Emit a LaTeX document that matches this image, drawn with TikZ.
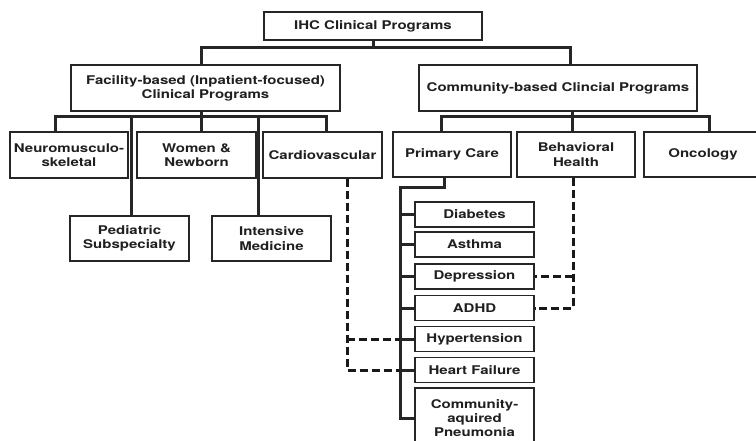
\documentclass[tikz,border=0pt]{standalone}
\usepackage{fontspec}
\setmainfont{TeX Gyre Heros}[FakeStretch=1.25]
\begin{document}
\begin{tikzpicture}[x=1pt,y=-1pt,
  font=\fontsize{12}{14.3}\selectfont\bfseries,
  box/.style={draw=black!85, line width=1.3pt, text=black!88, align=center, inner sep=0pt},
  conn/.style={draw=black!85, line width=3pt},
  dconn/.style={draw=black!90, line width=3pt, dash pattern=on 8pt off 4pt}]
\useasboundingbox (0,0) rectangle (756,441);
\clip (0,0) rectangle (756,441);
% level 0
\node[box, minimum width=218pt, minimum height=28pt] (ihc) at (373,26) {IHC Clinical Programs};
% level 1
\node[box, minimum width=269pt, minimum height=46pt] (fac) at (205.5,88) {Facility-based (Inpatient-focused)\\Clinical Programs};
\node[box, minimum width=278pt, minimum height=46pt] (com) at (558,88) {Community-based Clincial Programs};
% level 2 facility
\node[box, minimum width=118pt, minimum height=46pt] (neuro) at (69,155) {Neuromusculo-\\skeletal};
\node[box, minimum width=119pt, minimum height=46pt] (women) at (196.5,155) {Women \&\\Newborn};
\node[box, minimum width=119pt, minimum height=46pt] (cardio) at (322.5,155) {Cardiovascular};
\node[box, minimum width=119pt, minimum height=45pt] (ped) at (129.5,238.5) {Pediatric\\Subspecialty};
\node[box, minimum width=119pt, minimum height=45pt] (inten) at (271.5,238.5) {Intensive\\Medicine};
% level 2 community
\node[box, minimum width=118pt, minimum height=45pt] (prim) at (452,154.5) {Primary Care};
\node[box, minimum width=118pt, minimum height=45pt] (behav) at (576,154.5) {Behavioral\\Health};
\node[box, minimum width=118pt, minimum height=45pt] (onco) at (703,154.5) {Oncology};
% primary care children
\node[box, minimum width=119pt, minimum height=25pt] (diab) at (474.5,214.5) {Diabetes};
\node[box, minimum width=119pt, minimum height=25pt] (asth) at (474.5,244.5) {Asthma};
\node[box, minimum width=119pt, minimum height=25pt] (depr) at (474.5,276.5) {Depression};
\node[box, minimum width=119pt, minimum height=25pt] (adhd) at (474.5,308) {ADHD};
\node[box, minimum width=119pt, minimum height=25pt] (hyper) at (474.5,339) {Hypertension};
\node[box, minimum width=119pt, minimum height=25pt] (heart) at (474.5,370) {Heart Failure};
\node[box, minimum width=119pt, minimum height=60pt] (pneu) at (474.5,418) {Community-\\aquired\\Pneumonia};
% junction coordinates
\coordinate (busA) at (0,48);
\coordinate (busB) at (0,117);
\coordinate (busC) at (0,188);
\coordinate (fx) at (201,0);
\coordinate (cx) at (570,0);
\coordinate (n1) at (55,0);
\coordinate (n2) at (131,0);
\coordinate (n4) at (258,0);
\coordinate (n5) at (326,0);
\coordinate (m1) at (441,0);
\coordinate (m2) at (572,0);
\coordinate (m3) at (709,0);
\coordinate (p1) at (444,0);
\coordinate (t) at (400,0);
\coordinate (d1) at (347,0);
\coordinate (d2) at (573,0);
% top connectors
\draw[conn] (ihc.south) -- (ihc.south |- busA);
\draw[conn] (fac.north -| fx) -- (fx |- busA) -- (cx |- busA) -- (com.north -| cx);
% facility connectors
\draw[conn] (fac.south -| fx) -- (women.north -| fx);
\draw[conn] (neuro.north -| n1) -- (n1 |- busB) -- (n5 |- busB) -- (cardio.north -| n5);
\draw[conn] (n2 |- busB) -- (ped.north -| n2);
\draw[conn] (n4 |- busB) -- (inten.north -| n4);
% community connectors
\draw[conn] (com.south -| m2) -- (behav.north -| m2);
\draw[conn] (prim.north -| m1) -- (m1 |- busB) -- (m3 |- busB) -- (onco.north -| m3);
% primary care trunk
\draw[conn] (prim.south -| p1) -- (p1 |- busC) -- (t |- busC) -- (t |- pneu.west) -- (pneu.west);
\foreach \n in {diab,asth,depr,adhd,hyper,heart}
  \draw[conn] (t |- \n.west) -- (\n.west);
% dashed links
\draw[dconn] (cardio.south -| d1) -- (d1 |- heart.west) -- (t |- heart.west);
\draw[dconn] (d1 |- hyper.west) -- (t |- hyper.west);
\draw[dconn] (behav.south -| d2) -- (d2 |- adhd.east) -- (adhd.east);
\draw[dconn] (d2 |- depr.east) -- (depr.east);
\end{tikzpicture}
\end{document}
